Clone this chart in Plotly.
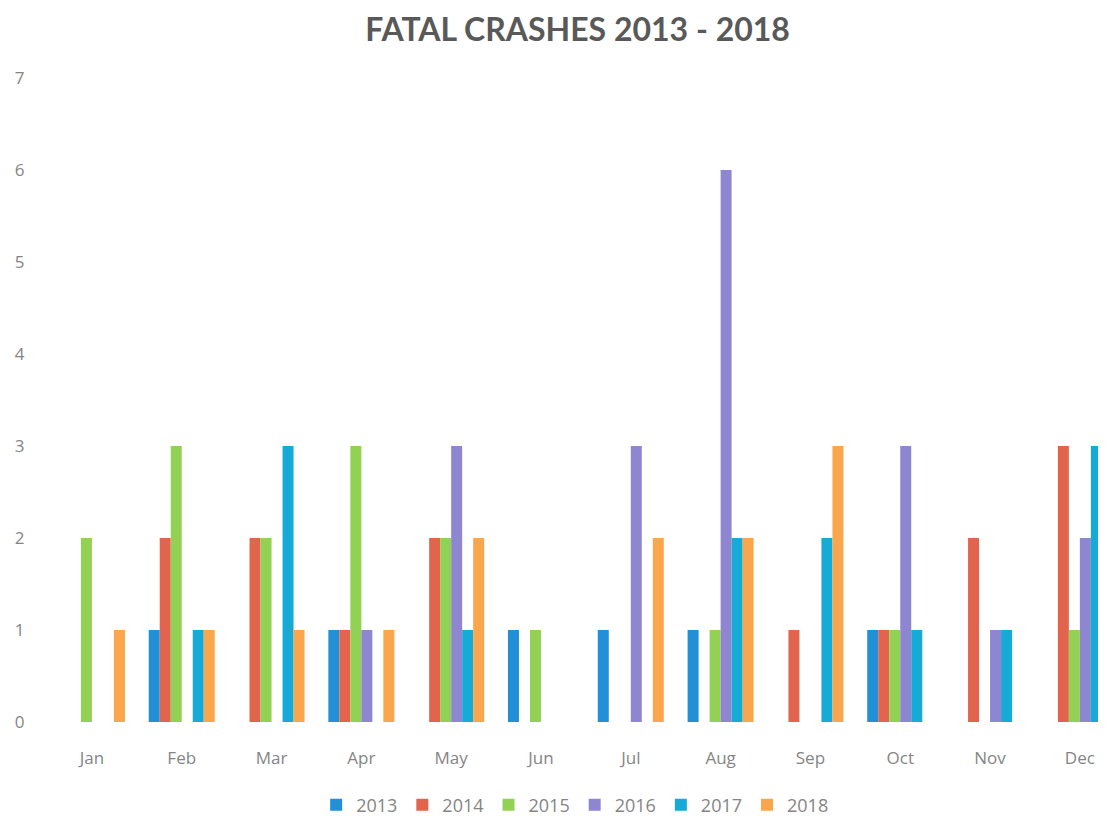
import plotly.graph_objects as go

months = ["Jan", "Feb", "Mar", "Apr", "May", "Jun", "Jul", "Aug", "Sep", "Oct", "Nov", "Dec"]
years = ["2013", "2014", "2015", "2016", "2017", "2018"]
v2013 = [0, 1, 0, 1, 0, 1, 1, 1, 0, 1, 0, 0]
v2014 = [0, 2, 2, 1, 2, 0, 0, 0, 1, 1, 2, 3]
v2015 = [2, 3, 2, 3, 2, 1, 0, 1, 0, 1, 0, 1]
v2016 = [0, 0, 0, 1, 3, 0, 3, 6, 0, 3, 1, 2]
v2017 = [0, 1, 3, 0, 1, 0, 0, 2, 2, 1, 1, 3]
v2018 = [1, 1, 1, 1, 2, 0, 2, 2, 3, 0, 0, 0]
series = [v2013, v2014, v2015, v2016, v2017, v2018]
colors = ["#2190d6", "#e3644d", "#93d155", "#8e86d0", "#16aad6", "#f9a64c"]

fig = go.Figure()
for y, vals, c in zip(years, series, colors):
    fig.add_trace(go.Bar(name=y, x=months, y=vals, marker=dict(color=c, line=dict(width=0))))

tick_font = "'Open Sans', 'Noto Sans', sans-serif"
fig.update_layout(
    width=1106, height=816,
    paper_bgcolor="white", plot_bgcolor="white",
    barmode="group", bargap=0.265, bargroupgap=0,
    margin=dict(l=39, r=0, t=70, b=102),
    title=dict(text="<b>FATAL CRASHES 2013 - 2018</b>", x=0.515, xanchor="center", y=0.973, yanchor="middle",
               font=dict(family="Lato, 'Open Sans', sans-serif", size=32, color="#595959")),
    font=dict(family=tick_font, color="#858585", size=17),
    legend=dict(orientation="h", x=0.495, xanchor="center", y=-0.129, yanchor="middle",
                font=dict(size=18, color="#858585", family=tick_font), itemwidth=30, traceorder="normal"),
    showlegend=True,
)
fig.update_xaxes(range=[-0.5, 11.38], showgrid=False, showline=False, zeroline=False,
                 tickfont=dict(size=17, color="#858585"), ticks="outside", ticklen=21,
                 tickcolor="rgba(0,0,0,0)")
fig.update_yaxes(range=[0, 7], dtick=1, showgrid=False, showline=False, zeroline=False,
                 tickfont=dict(size=17, color="#858585"), ticks="outside", ticklen=18,
                 tickcolor="rgba(0,0,0,0)")
fig.write_html("out.html")
